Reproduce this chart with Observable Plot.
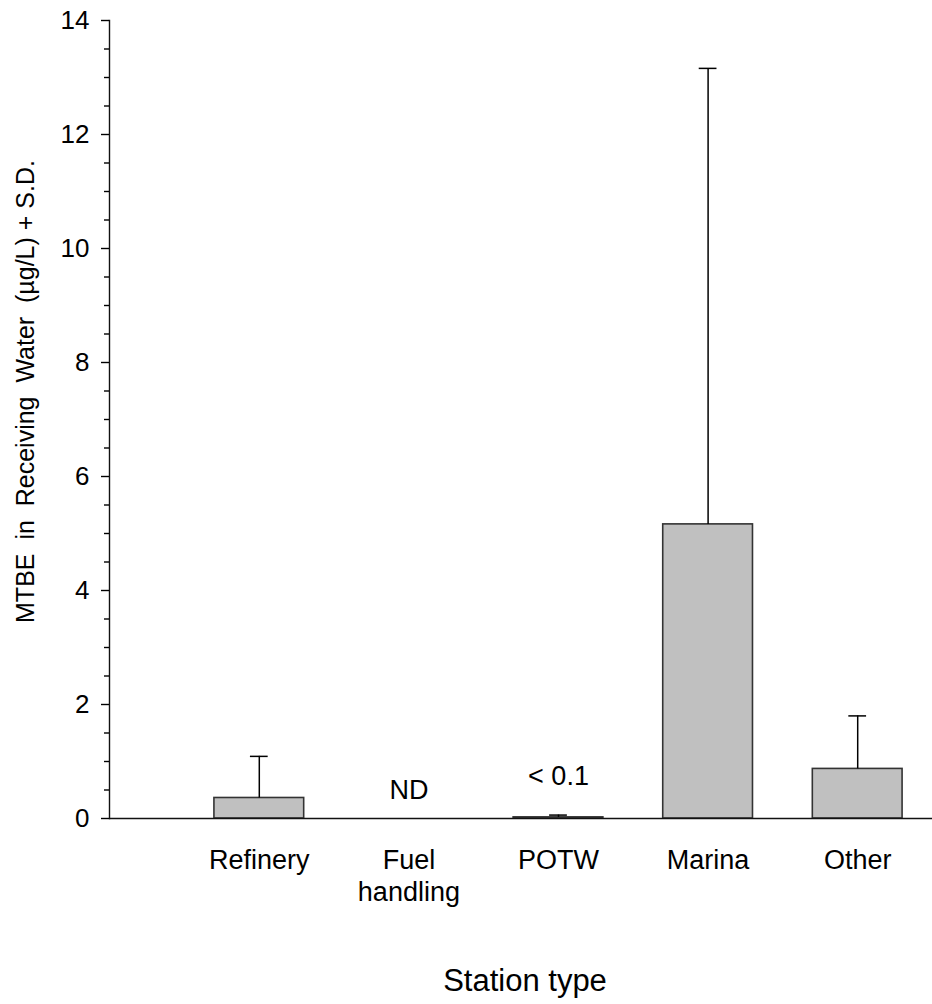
<!DOCTYPE html>
<html>
<head>
<meta charset="utf-8">
<script src="https://cdn.jsdelivr.net/npm/d3@7"></script>
<script src="https://cdn.jsdelivr.net/npm/@observablehq/plot@0.6"></script>
<style>
  html, body { margin: 0; padding: 0; background: #fff; }
  svg text { white-space: pre; }
</style>
</head>
<body>
<div id="chart"></div>
<script>
const categories = ["Refinery", "Fuel handling", "POTW", "Marina", "Other"];
const tickLabels = ["Refinery", "Fuel\nhandling", "POTW", "Marina", "Other"];
const means = [0.36, null, 0.02, 5.16, 0.87];
const sds = [0.73, null, 0.04, 8.0, 0.93];
const majorTicks = [0, 2, 4, 6, 8, 10, 12, 14];
const minorTicks = [0.5, 1, 1.5, 2.5, 3, 3.5, 4.5, 5, 5.5, 6.5, 7, 7.5, 8.5, 9, 9.5,
                    10.5, 11, 11.5, 12.5, 13, 13.5];
const yTitle = "MTBE  in  Receiving  Water  (µg/L) + S.D.";
const xTitle = "Station type";
const ndLabel = [{cat: "Fuel handling", text: "ND"}];
const lowLabel = [{cat: "POTW", text: "< 0.1"}];

const rows = categories.map((c, i) => ({cat: c, label: tickLabels[i], mean: means[i], sd: sds[i]}));
const present = rows.filter(d => d.mean != null);

const font = "'Liberation Sans', Arial, Helvetica, sans-serif";

const chart = Plot.plot({
  width: 932,
  height: 1004,
  marginLeft: 109,
  marginRight: 0,
  marginTop: 20,
  marginBottom: 186,
  style: {fontFamily: font, fontSize: "26px", color: "#000", background: "#fff"},
  x: {type: "band", domain: categories, range: [184, 932], paddingInner: 0.4, paddingOuter: 0.2, round: false, axis: null},
  y: {domain: [0, 14], axis: null},
  marks: [
    Plot.barY(present, {x: "cat", y: "mean", fill: "#c0c0c0", stroke: "#333", strokeWidth: 1.6}),
    Plot.ruleX(present, {x: "cat", y1: "mean", y2: d => d.mean + d.sd, stroke: "#000", strokeWidth: 1.5}),
    Plot.tickY(present, {x: "cat", y: d => d.mean + d.sd, insetLeft: 36, insetRight: 36, stroke: "#000", strokeWidth: 1.5}),
    Plot.ruleY([0], {stroke: "#111", strokeWidth: 1.4}),
    Plot.frame({anchor: "left", stroke: "#111", strokeWidth: 1.4}),
    Plot.axisY({ticks: majorTicks, tickSize: 8, tickPadding: 12, label: null, fontSize: 26, stroke: "#000", strokeWidth: 1.4}),
    Plot.axisY({ticks: minorTicks, tickSize: 5, tickFormat: () => "", label: null, stroke: "#000", strokeWidth: 1.4}),
    Plot.text(rows, {x: "cat", text: "label", frameAnchor: "bottom", lineAnchor: "top", dy: 28, fontSize: 27, lineHeight: 1.18, fill: "#000"}),
    Plot.text(ndLabel, {x: "cat", y: 0, text: "text", dy: -20, lineAnchor: "bottom", fontSize: 27, fill: "#000"}),
    Plot.text(lowLabel, {x: "cat", y: 0, text: "text", dy: -34, lineAnchor: "bottom", fontSize: 27, fill: "#000"}),
    Plot.text([yTitle], {frameAnchor: "left", rotate: -90, dx: -76, dy: -28, lineAnchor: "bottom", textAnchor: "middle", fontSize: 25, fill: "#000"}),
    Plot.text([xTitle], {frameAnchor: "bottom", lineAnchor: "bottom", dy: 172, dx: 4, fontSize: 31, fill: "#000"})
  ]
});
document.getElementById("chart").appendChild(chart);
</script>
</body>
</html>
